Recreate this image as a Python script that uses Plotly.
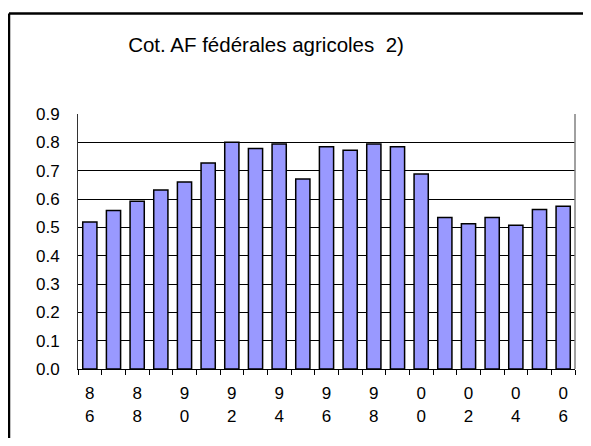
import plotly.graph_objects as go

years = list(range(1986, 2007))
values = [0.519, 0.559, 0.592, 0.632, 0.660, 0.727, 0.800, 0.778, 0.794, 0.671,
          0.784, 0.772, 0.794, 0.784, 0.688, 0.535, 0.513, 0.535, 0.507, 0.563, 0.574]
label_years = list(range(1986, 2007, 2))
label_text = [f"{str(y)[2]}<br>{str(y)[3]}" for y in label_years]
title_text = "Cot. AF fédérales agricoles\u00a0\u00a02)"

FONT = "Liberation Sans, Arial, sans-serif"

# page body adds an 8px margin on every side; figure is sized to fit without scrollbars
W, H = 575, 430
L, R, T, B = 70, 8, 106, 69
PW, PH = W - L - R, H - T - B

fig = go.Figure(go.Bar(
    x=years, y=values, width=0.6,
    marker=dict(color="#9999FF", line=dict(color="#000000", width=1.5)),
))

fx0 = (1 - L) / PW
fy1 = (PH + T - 5.5) / PH

fig.update_layout(
    width=W, height=H,
    margin=dict(l=L, r=R, t=T, b=B),
    paper_bgcolor="white", plot_bgcolor="white",
    showlegend=False,
    font=dict(family=FONT, color="black"),
    title=dict(text=title_text, x=258 / W, xanchor="center", y=1 - 37 / H,
               yanchor="middle", font=dict(size=20.5, family=FONT, color="black")),
    xaxis=dict(
        range=[1985.5, 2006.5], tickmode="array", tickvals=label_years, ticktext=label_text,
        ticks="outside", ticklen=9, tickcolor="rgba(0,0,0,0)",
        minor=dict(ticks="outside", ticklen=5, tickcolor="black", tick0=1985.5, dtick=1,
                   showgrid=False),
        showgrid=False, showline=True, linecolor="black", linewidth=1,
        tickfont=dict(size=17, family=FONT, color="black"), zeroline=False,
    ),
    yaxis=dict(
        range=[0, 0.9], dtick=0.1, tick0=0, tickformat=".1f",
        showgrid=True, gridcolor="black", gridwidth=1,
        showline=True, linecolor="#333333", linewidth=1,
        ticks="outside", ticklen=14, tickcolor="rgba(0,0,0,0)",
        tickfont=dict(size=17, family=FONT, color="black"), zeroline=False,
    ),
    shapes=[
        dict(type="line", xref="paper", yref="paper", x0=1, x1=1, y0=0, y1=1,
             line=dict(color="#808080", width=1.5)),
        dict(type="line", xref="paper", yref="paper", x0=fx0, x1=1.05,
             y0=fy1, y1=fy1, line=dict(color="black", width=2.5)),
        dict(type="line", xref="paper", yref="paper", x0=fx0, x1=fx0,
             y0=-0.5, y1=fy1, line=dict(color="black", width=2.5)),
    ],
)

fig.write_html("out.html")
